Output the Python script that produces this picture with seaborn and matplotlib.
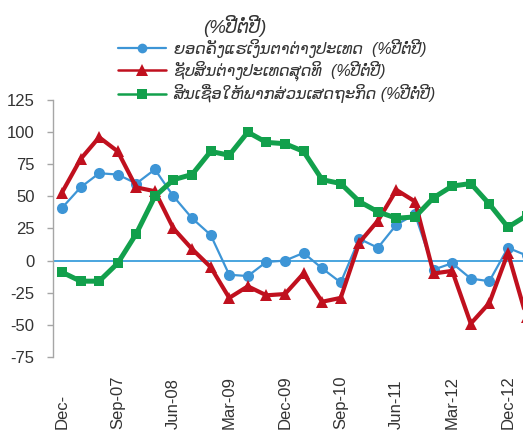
import matplotlib
matplotlib.use("Agg")
import matplotlib.pyplot as plt
import seaborn as sns
import pandas as pd
from matplotlib.lines import Line2D

# ---- data (quarterly, Dec-06 .. Mar-13) ----
quarters = ["Dec-06", "Mar-07", "Jun-07", "Sep-07", "Dec-07", "Mar-08", "Jun-08",
            "Sep-08", "Dec-08", "Mar-09", "Jun-09", "Sep-09", "Dec-09", "Mar-10",
            "Jun-10", "Sep-10", "Dec-10", "Mar-11", "Jun-11", "Sep-11", "Dec-11",
            "Mar-12", "Jun-12", "Sep-12", "Dec-12", "Mar-13"]
reserves = [41, 57, 68, 67, 60, 71, 50, 33, 20, -11, -12, -1, 0, 6, -6, -17,
            17, 10, 28, 36, -7, -2, -14, -16, 10, 4]
net_foreign_assets = [53, 79, 96, 85, 57, 54, 25, 9, -5, -29, -20, -27, -26, -10,
                      -32, -29, 14, 31, 55, 46, -10, -8, -49, -33, 6, -44]
credit = [-9, -16, -16, -2, 21, 50, 63, 67, 85, 82, 100, 92, 91, 85, 63, 60,
          46, 38, 33, 34, 49, 58, 60, 44, 26, 35]

tick_positions = [0, 3, 6, 9, 12, 15, 18, 21, 24]
tick_labels = ["Dec-", "Sep-07", "Jun-08", "Mar-09", "Dec-09", "Sep-10",
               "Jun-11", "Mar-12", "Dec-12"]
y_ticks = [-75, -50, -25, 0, 25, 50, 75, 100, 125]

title_text = "(%ປີຕໍ່ປີ)"
series_names = ["ຍອດຄັງແຮເງິນຕາຕ່າງປະເທດ  (%ປີຕໍ່ປີ)",
                "ຊັບສິນຕ່າງປະເທດສຸດທິ  (%ປີຕໍ່ປີ)",
                "ສິນເຊື່ອໃຫ້ພາກສ່ວນເສດຖະກິດ (%ປີຕໍ່ປີ)"]

BLUE = "#3D95D6"
RED = "#C0101E"
GREEN = "#12A04C"
ZERO = "#3A9EDC"
TXT = "#333333"

sns.set_theme(style="white")
plt.rcParams['font.family'] = ['Liberation Sans', 'DejaVu Sans']

df = pd.DataFrame({"idx": range(len(quarters)), "quarter": quarters,
                   "reserves": reserves, "nfa": net_foreign_assets,
                   "credit": credit})

W, H = 523, 444
fig = plt.figure(figsize=(W / 100, H / 100), dpi=100)
left_px, right_px = 52.7, 535.8
top_px, bot_px = 100, 357
ax = fig.add_axes([left_px / W, 1 - bot_px / H, (right_px - left_px) / W,
                   (bot_px - top_px) / H])

ax.axhline(0, color=ZERO, lw=1.3, zorder=1)

sns.lineplot(data=df, x="idx", y="reserves", ax=ax, color=BLUE, lw=1.6,
             marker="o", markersize=8, markeredgewidth=0, zorder=3)
sns.lineplot(data=df, x="idx", y="nfa", ax=ax, color=RED, lw=3.0,
             marker="^", markersize=8.5, markeredgewidth=0, zorder=4)
sns.lineplot(data=df, x="idx", y="credit", ax=ax, color=GREEN, lw=3.6,
             marker="s", markersize=7, markeredgewidth=0, zorder=5)

ax.set_xlim(-0.5, 25.5)
ax.set_ylim(-75, 125)
ax.set_xlabel("")
ax.set_ylabel("")
ax.set_yticks(y_ticks)
ax.set_yticklabels([str(v) for v in y_ticks], fontsize=12, color=TXT)
ax.set_xticks(tick_positions)
ax.set_xticklabels(tick_labels, rotation=90, fontsize=12, color=TXT)
for lab in ax.get_xticklabels():
    lab.set_va("bottom")
ax.tick_params(axis="x", length=0, pad=52)
ax.tick_params(axis="y", length=4, width=1, color="#A6A6A6", pad=9, left=True)

for s in ["top", "right", "bottom"]:
    ax.spines[s].set_visible(False)
ax.spines["left"].set_color("#A6A6A6")
ax.spines["left"].set_linewidth(1.0)
ax.grid(False)

handles = [
    Line2D([], [], color=BLUE, lw=1.6, marker="o", markersize=7, markeredgewidth=0),
    Line2D([], [], color=RED, lw=1.8, marker="^", markersize=8, markeredgewidth=0),
    Line2D([], [], color=GREEN, lw=1.8, marker="s", markersize=7, markeredgewidth=0),
]
leg = fig.legend(handles, series_names, loc="upper left",
                 bbox_to_anchor=(118 / W, 1 - 39 / H), frameon=False,
                 borderpad=0, borderaxespad=0, handlelength=3.0,
                 handletextpad=0.45, labelspacing=0.18,
                 prop={"size": 11.6, "style": "italic"})
for t in leg.get_texts():
    t.set_color(TXT)

fig.text(235 / W, 1 - 26 / H, title_text, ha="center", va="center",
         fontsize=13.5, style="italic", color=TXT)

fig.savefig("out.png", dpi=100)
